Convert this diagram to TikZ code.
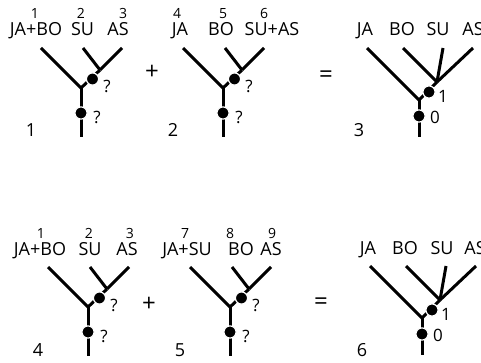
\documentclass[tikz,border=0pt]{standalone}
\usepackage{fontspec}
\setmainfont{Open Sans}
\newcommand\qtree[3]{%
 \begin{scope}[shift={(#2,#3)}]
  \coordinate (a#1) at (-40,-40);
  \coordinate (b#1) at (2,-40);
  \coordinate (c#1) at (41,-40);
  \coordinate (j#1) at (19,-18);
  \coordinate (r#1) at (0,0);
  \coordinate (s#1) at (0,49);
  \draw[br] (a#1) -- (r#1);
  \draw[br] (b#1) -- (j#1);
  \draw[br] (c#1) -- (j#1);
  \draw[br] (j#1) -- (r#1);
  \draw[br] (r#1) -- (s#1);
  \node[dot] (du#1) at (11.5,-9) {};
  \node[dot] (dl#1) at (0,25) {};
  \node[q] (qu#1) at (26,-2) {?};
  \node[q] (ql#1) at (16,29) {?};
 \end{scope}}
\newcommand\ftree[3]{%
 \begin{scope}[shift={(#2,#3)}]
  \coordinate (a#1) at (-52,-52);
  \coordinate (b#1) at (-16,-52);
  \coordinate (c#1) at (24,-52);
  \coordinate (e#1) at (54,-52);
  \coordinate (j#1) at (18,-18);
  \coordinate (r#1) at (0,0);
  \coordinate (s#1) at (0,37);
  \draw[br] (a#1) -- (r#1);
  \draw[br] (b#1) -- (j#1);
  \draw[br] (c#1) -- (j#1);
  \draw[br] (e#1) -- (j#1);
  \draw[br] (j#1) -- (r#1);
  \draw[br] (r#1) -- (s#1);
  \node[dot] (du#1) at (10,-8) {};
  \node[dot] (dl#1) at (0,16) {};
  \node[q] (qu#1) at (24,-4) {1};
  \node[q] (ql#1) at (16,17) {0};
 \end{scope}}
\begin{document}
\begin{tikzpicture}[x=1pt,y=-1pt,
 br/.style={line width=3pt, line cap=butt},
 dot/.style={circle, fill=black, draw=white, line width=1.2pt, inner sep=0pt, minimum size=12.2pt},
 lab/.style={font=\fontsize{18}{18}\selectfont, inner sep=0pt, anchor=base},
 num/.style={font=\fontsize{14}{14}\selectfont, inner sep=0pt, anchor=base},
 q/.style={font=\fontsize{17}{17}\selectfont, inner sep=0pt},
 op/.style={font=\fontsize{24}{24}\selectfont, inner sep=0pt},
]
\useasboundingbox (0,0) rectangle (481,363);
% Panel 1
\node[num] (t1n1) at (35,18.7) {1};
\node[num] (t1n2) at (81,18.7) {2};
\node[num] (t1n3) at (123,18.7) {3};
\node[lab] (t1l1) at (36,35.5) {JA+BO};
\node[lab] (t1l2) at (82.5,35.5) {SU};
\node[lab] (t1l3) at (118,35.5) {AS};
\qtree{p1}{81}{88}
\node[lab] (k1) at (31,137) {1};
\node[op] (plus1) at (152,72) {+};
% Panel 2
\node[num] (t2n1) at (177,18.7) {4};
\node[num] (t2n2) at (223,18.7) {5};
\node[num] (t2n3) at (264,18.7) {6};
\node[lab] (t2l1) at (180,35.5) {JA};
\node[lab] (t2l2) at (221,35.5) {BO};
\node[lab] (t2l3) at (272,35.5) {SU+AS};
\qtree{p2}{223}{88}
\node[lab] (k2) at (173,137) {2};
\node[op] (eq1) at (326,77) {=};
% Panel 3
\node[lab] (t3l1) at (365,35.5) {JA};
\node[lab] (t3l2) at (402,35.5) {BO};
\node[lab] (t3l3) at (438,35.5) {SU};
\node[lab] (t3l4) at (473,35.5) {AS};
\ftree{p3}{419}{100}
\node[lab] (k3) at (359,137) {3};
% Panel 4
\node[num] (t4n1) at (41,238) {1};
\node[num] (t4n2) at (89,238) {2};
\node[num] (t4n3) at (130,238) {3};
\node[lab] (t4l1) at (40,255) {JA+BO};
\node[lab] (t4l2) at (90,255) {SU};
\node[lab] (t4l3) at (127,255) {AS};
\qtree{p4}{88}{307}
\node[lab] (k4) at (38,356) {4};
\node[op] (plus2) at (149,304) {+};
% Panel 5
\node[num] (t5n1) at (185,238) {7};
\node[num] (t5n2) at (230,238) {8};
\node[num] (t5n3) at (272,238) {9};
\node[lab] (t5l1) at (187,255) {JA+SU};
\node[lab] (t5l2) at (241,255) {BO};
\node[lab] (t5l3) at (271,255) {AS};
\qtree{p5}{230}{307}
\node[lab] (k5) at (180,356) {5};
\node[op] (eq2) at (321,304) {=};
% Panel 6
\node[lab] (t6l1) at (368,254.5) {JA};
\node[lab] (t6l2) at (405,254.5) {BO};
\node[lab] (t6l3) at (442,254.5) {SU};
\node[lab] (t6l4) at (475,254.5) {AS};
\ftree{p6}{422}{318}
\node[lab] (k6) at (362,356) {6};
\end{tikzpicture}
\end{document}
